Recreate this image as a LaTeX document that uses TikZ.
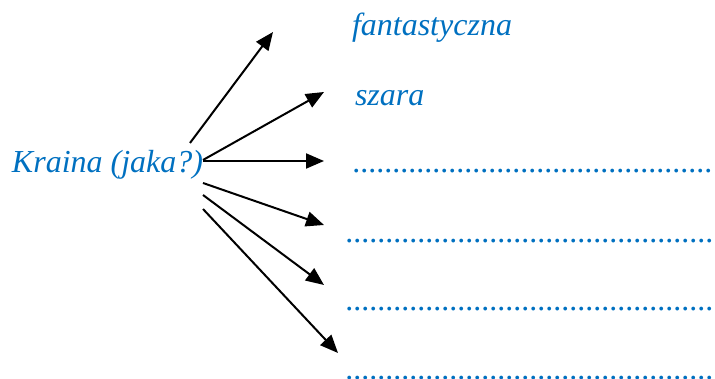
\documentclass[tikz,border=0pt]{standalone}
\usepackage{fontspec}
\setmainfont{Liberation Serif}
\usetikzlibrary{arrows.meta}
\definecolor{wordblue}{HTML}{0070C0}
\newcommand{\dotrow}[1]{\foreach \i in {1,...,#1}{.}}
\begin{document}
\begin{tikzpicture}[x=1pt,y=-1pt,
  word/.style={font=\fontsize{32}{36}\selectfont\itshape, text=wordblue, inner sep=0pt, outer sep=0pt, anchor=base west},
  arr/.style={line width=2pt, -{Triangle[length=18pt,width=15pt]}}]
\useasboundingbox (0,0) rectangle (715,379);
\node[word] (kraina) at (12,173) {Kraina (jaka?)};
\node[word] (fant) at (352,36) {fantastyczna};
\node[word] (szara) at (355,106) {szara};
\node[word] (d1) at (353,172.5) {\dotrow{45}};
\node[word] (d2) at (346,242.5) {\dotrow{46}};
\node[word] (d3) at (346,310.5) {\dotrow{46}};
\node[word] (d4) at (346,379.5) {\dotrow{46}};
% arrow start points
\coordinate (s1) at (190,143);
\coordinate (s2) at (203,160);
\coordinate (s3) at (203,161);
\coordinate (s4) at (203,183);
\coordinate (s5) at (203,195);
\coordinate (s6) at (203,209);
% arrow tips
\coordinate (t1) at (273,32);
\coordinate (t2) at (324,92);
\coordinate (t3) at (324,161);
\coordinate (t4) at (324,225);
\coordinate (t5) at (324,285);
\coordinate (t6) at (338,353);
\draw[arr] (s1) -- (t1);
\draw[arr] (s2) -- (t2);
\draw[arr] (s3) -- (t3);
\draw[arr] (s4) -- (t4);
\draw[arr] (s5) -- (t5);
\draw[arr] (s6) -- (t6);
\end{tikzpicture}
\end{document}
